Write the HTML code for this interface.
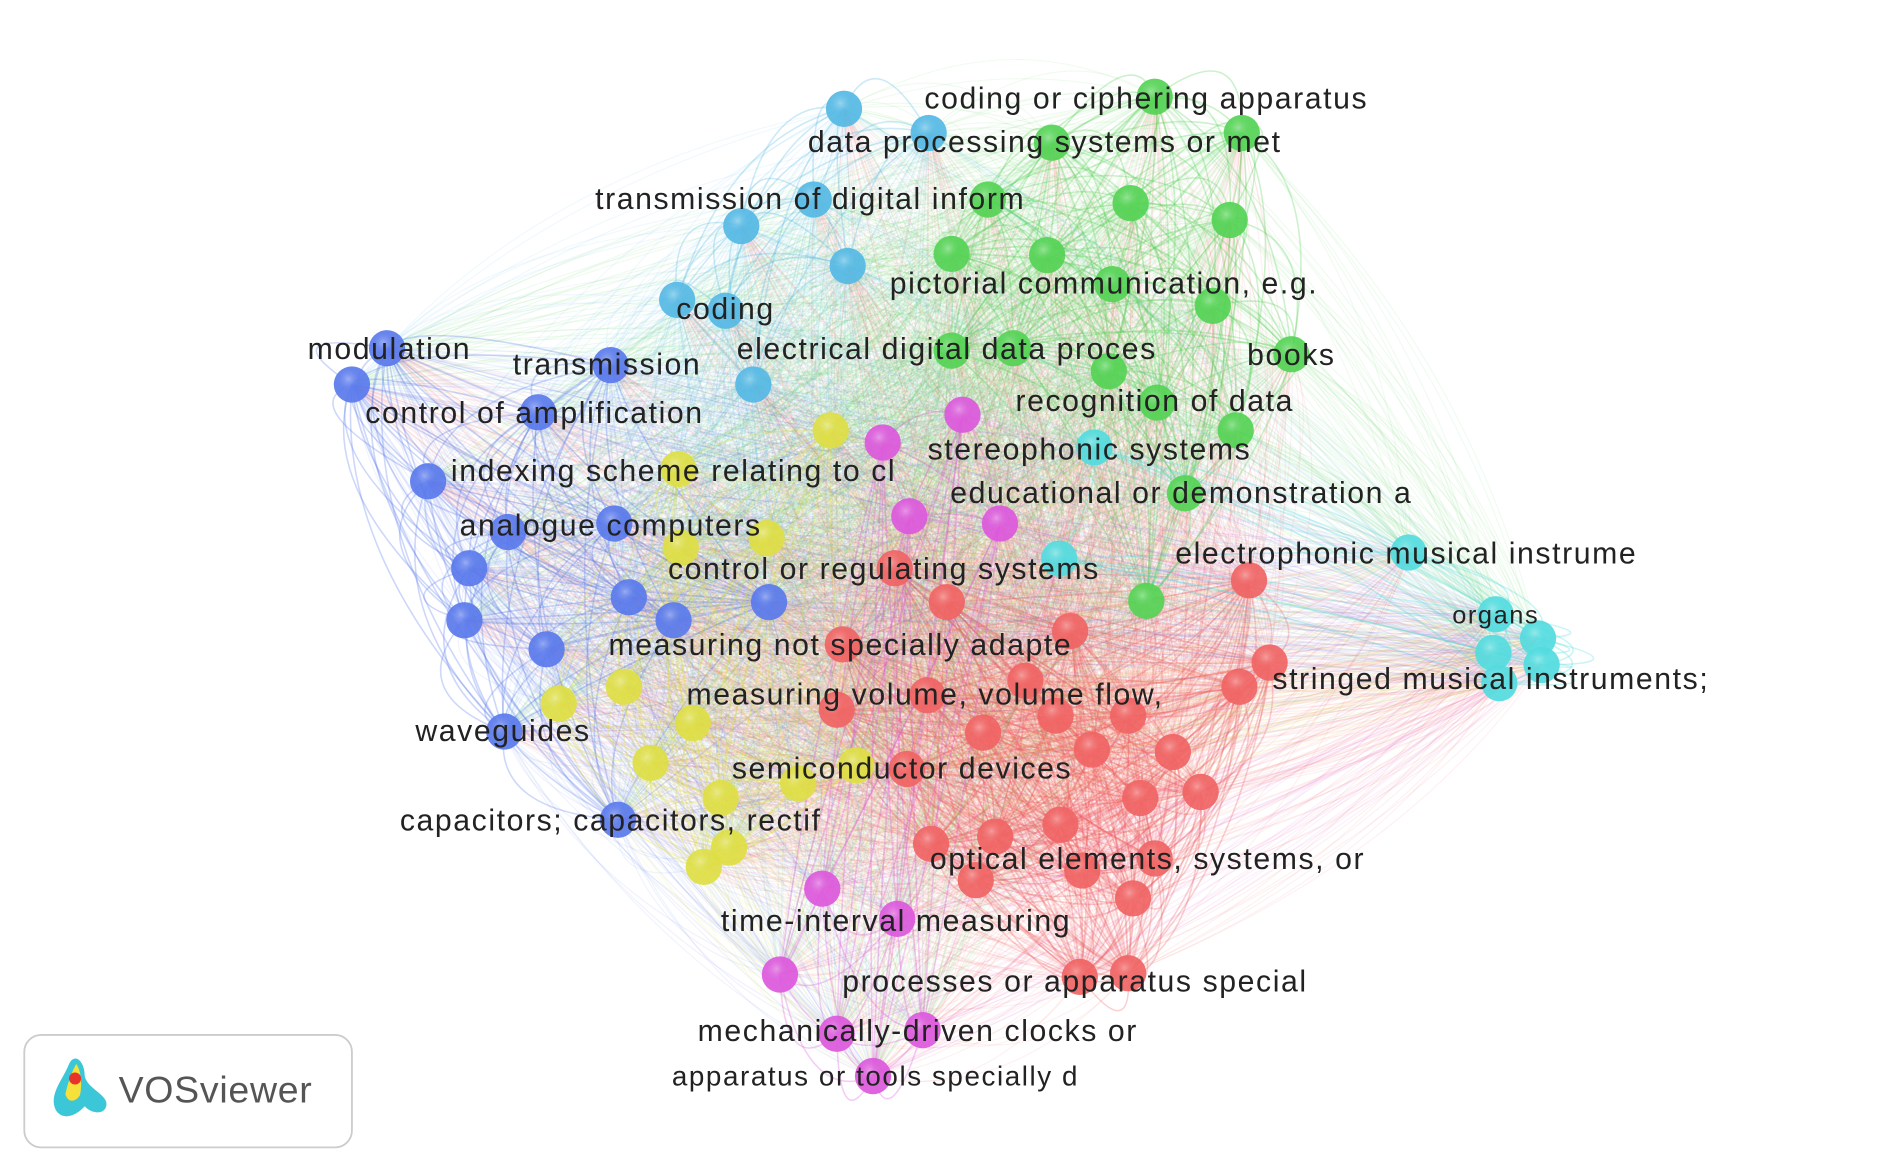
<!DOCTYPE html>
<html><head><meta charset="utf-8"><style>
html,body{margin:0;padding:0;background:#fff;}
svg{display:block;}
text{font-family:"Liberation Sans","DejaVu Sans",sans-serif;fill:#222;}
</style></head><body>
<svg id="net" width="1896" height="1174" viewBox="0 0 1568 971" xmlns="http://www.w3.org/2000/svg">
<defs id="defs"></defs>
<g id="edges"></g>
<g id="nodes"></g>
<g id="labels"></g>
<g>
<rect x="20" y="856" width="271" height="93" rx="14" fill="#fff" stroke="#ccc" stroke-width="1.5"/>
<path d="M46 918 C40 905 52 893 57 880 C62 870 70 878 70 890 C72 900 88 905 88 913 C88 922 76 922 70 915 C64 922 52 928 46 918Z" fill="#3cc7d8"/>
<path d="M54 905 C56 895 60 885 63 880 C67 885 68 898 66 906 C62 912 56 912 54 905Z" fill="#f6e03a"/>
<circle cx="62" cy="892" r="5" fill="#e8332a"/>
<text x="98" y="912" font-size="31" style="fill:#555;letter-spacing:0.6px">VOSviewer</text>
</g>
</svg>
<script>
const colors={red:"#f06464",green:"#55d255",sky:"#55b8e4",blue:"#5a7aec",yellow:"#dede44",magenta:"#dc58dc",cyan:"#52dbde"};
const nodeX=[740,783,697,885,1033,1050,1025,848,767,692,813,873,933,903,970,750,943,993,877,823,770,955,895,807,937,893,933,
955,1027,870,817,935,1017,787,866,920,1003,1068,787,838,917,957,1022,980,948,
698,768,613,673,701,560,600,623,
320,291,505,445,354,420,508,388,520,636,557,384,452,417,511,
687,561,563,634,516,462,573,538,660,708,596,603,582,
730,796,752,827,680,742,645,692,763,722,
905,876,1165,1237,1272,1235,1275,1240];
const nodeY=[470,498,533,522,480,548,568,563,575,587,606,592,592,620,622,636,660,655,682,692,698,710,720,728,743,808,805,
80,110,118,165,168,182,210,211,235,253,293,290,288,307,333,356,408,497,
90,110,187,165,220,248,257,318,
288,318,302,341,398,440,433,470,494,498,513,513,537,605,678,
356,388,453,445,568,582,598,631,648,633,660,701,717,
366,343,427,433,735,760,806,855,852,890,
370,462,457,508,528,540,550,565];
const nodeCluster=[].concat(Array(27).fill("red"),Array(18).fill("green"),Array(8).fill("sky"),Array(15).fill("blue"),Array(13).fill("yellow"),Array(10).fill("magenta"),Array(8).fill("cyan"));
const labelText=["coding or ciphering apparatus","data processing systems or met","transmission of digital inform","pictorial communication, e.g.","coding","modulation","transmission","electrical digital data proces","books","recognition of data","control of amplification","stereophonic systems","indexing scheme relating to cl","educational or demonstration a","analogue computers","control or regulating systems","electrophonic musical instrume","organs","measuring not specially adapte","stringed musical instruments;","measuring volume, volume flow,","waveguides","semiconductor devices","capacitors; capacitors, rectif","optical elements, systems, or","time-interval measuring","processes or apparatus special","mechanically-driven clocks or","apparatus or tools specially d"];
const labelX=[948,864,670,913,600,322,502,783,1068,955,442,901,557,977,505,731,1163,1237,695,1233,765,416,746,505,949,741,889,759,724];
const labelY=[82,118,165,235,256,289,302,289,294,332,342,372,390,408,435,471,458,509,534,562,575,605,636,679,711,762,812,853,890];
const labelSize=[25,25,25,25,25,25,25,25,25,25,25,25,25,25,25,25,25,21,25,25,25,25,25,25,25,25,25,25,23];
const NS="http://www.w3.org/2000/svg";
const eg=document.getElementById("edges"),ng=document.getElementById("nodes"),lg=document.getElementById("labels"),defs=document.getElementById("defs");
for(const k in colors){
 const g=document.createElementNS(NS,"radialGradient");
 g.setAttribute("id","g-"+k);g.setAttribute("cx","0.4");g.setAttribute("cy","0.35");g.setAttribute("r","0.7");
 g.innerHTML=`<stop offset="0" stop-color="#fff" stop-opacity="0.35"/><stop offset="0.5" stop-color="${colors[k]}" stop-opacity="0"/>`;
 defs.appendChild(g);}
const cx=780,cy=480;
for(let i=0;i<nodeX.length;i++){for(let j=i+1;j<nodeX.length;j++){
 const x1=nodeX[i],y1=nodeY[i],x2=nodeX[j],y2=nodeY[j];
 const mx=(x1+x2)/2,my=(y1+y2)/2;
 const qx=mx+(mx-cx)*0.18,qy=my+(my-cy)*0.18;
 const same=nodeCluster[i]===nodeCluster[j];
 const p=document.createElementNS(NS,"path");
 
 
 p.setAttribute("d",`M${x1} ${y1}Q${qx} ${qy} ${x2} ${y2}`);
 p.setAttribute("fill","none");
 p.setAttribute("stroke",colors[nodeCluster[i]]);
 p.setAttribute("stroke-opacity",same?"0.3":"0.09");
 p.setAttribute("stroke-width",same?"1.3":"1");
 eg.appendChild(p);}}
for(let i=0;i<nodeX.length;i++){
 const c=document.createElementNS(NS,"circle");
 
 
 c.setAttribute("cx",nodeX[i]);c.setAttribute("cy",nodeY[i]);c.setAttribute("r",15);
 c.setAttribute("fill",colors[nodeCluster[i]]);c.setAttribute("fill-opacity","0.92");
 ng.appendChild(c);
 const h=document.createElementNS(NS,"circle");
 
 
 h.setAttribute("cx",nodeX[i]);h.setAttribute("cy",nodeY[i]);h.setAttribute("r",15);
 h.setAttribute("fill","url(#g-"+nodeCluster[i]+")");
 ng.appendChild(h);}
for(let i=0;i<labelText.length;i++){
 const t=document.createElementNS(NS,"text");
 
 
 t.setAttribute("x",labelX[i]);t.setAttribute("y",labelY[i]);
 t.setAttribute("text-anchor","middle");t.setAttribute("dominant-baseline","central");
 t.setAttribute("font-size",labelSize[i]);
 t.setAttribute("letter-spacing","1.3");
 t.textContent=labelText[i];
 lg.appendChild(t);}
</script>
</body></html>
